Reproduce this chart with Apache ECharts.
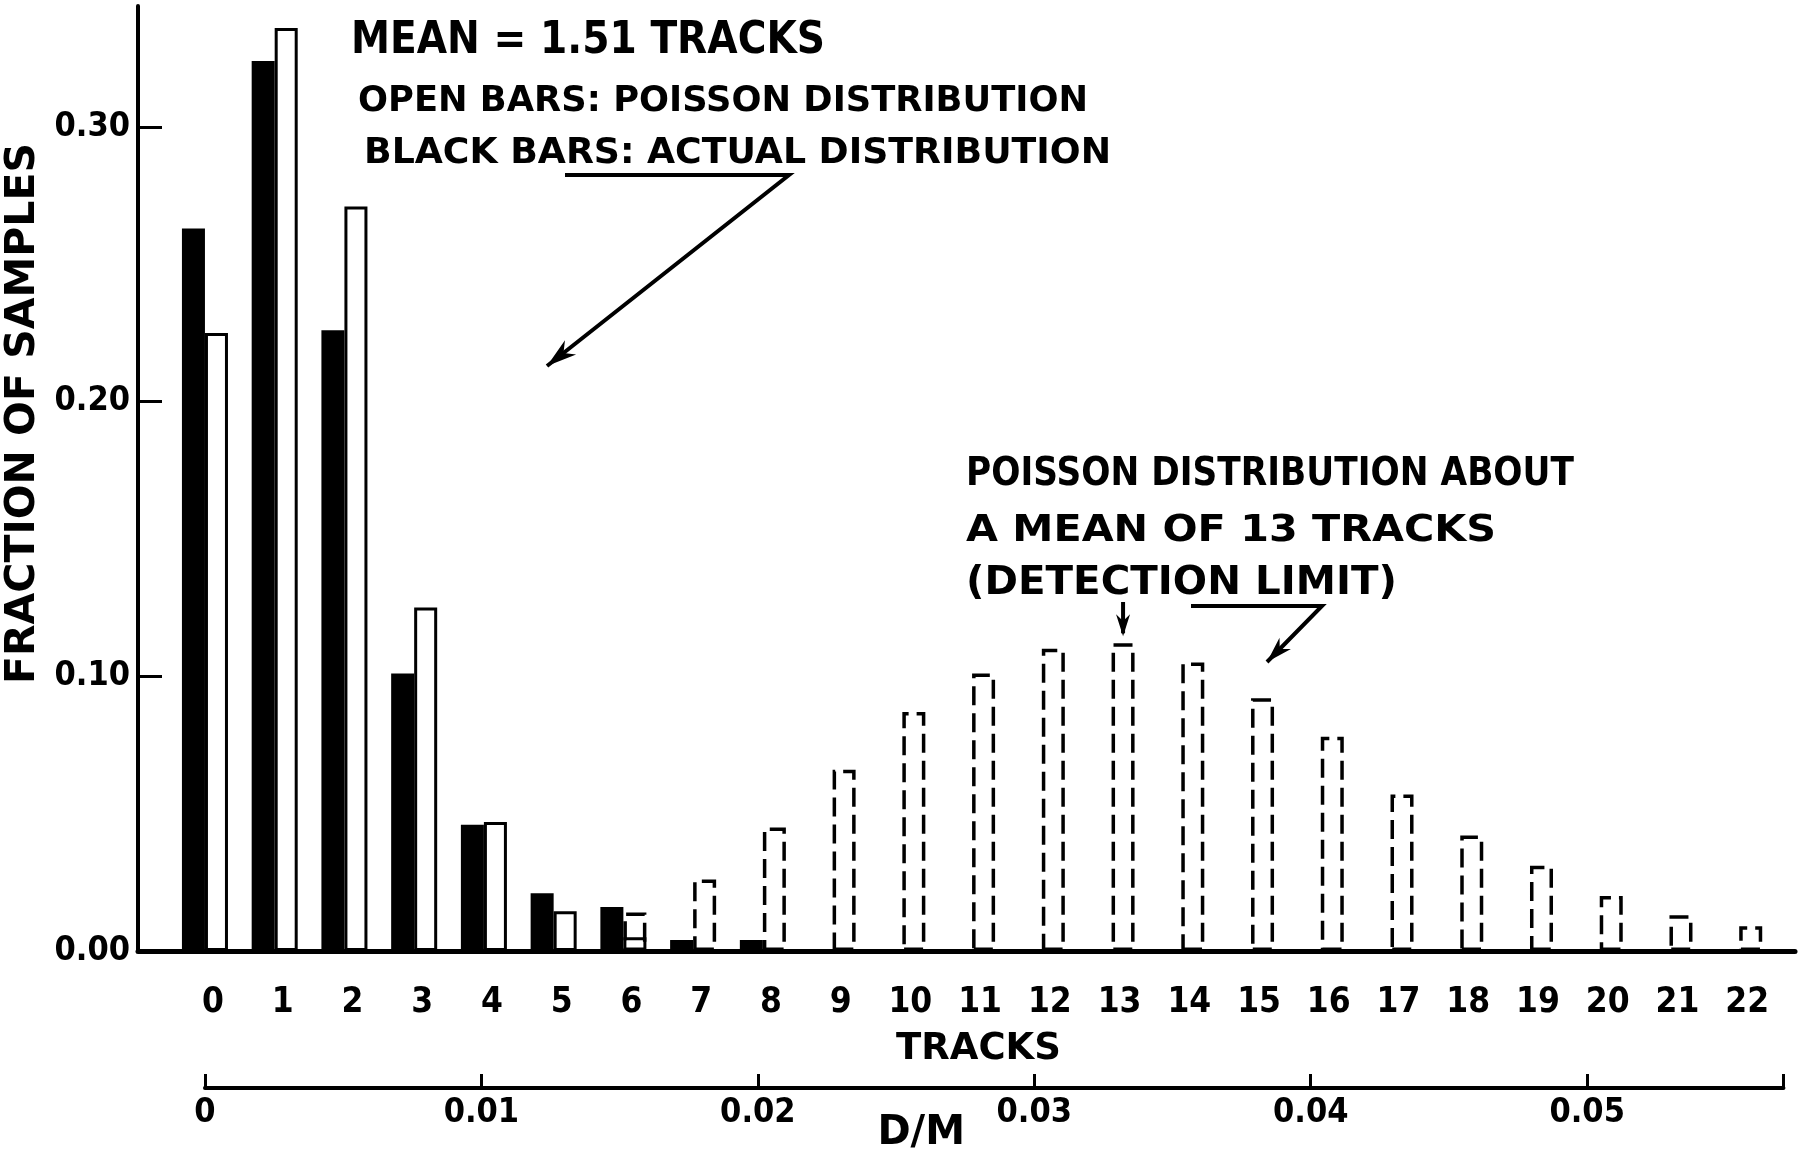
<!DOCTYPE html>
<html>
<head>
<meta charset="utf-8">
<script src="https://cdn.jsdelivr.net/npm/echarts@6/dist/echarts.min.js"></script>
<style>
  html, body { margin: 0; padding: 0; background: #fff; }
  #chart { width: 1807px; height: 1152px; }
</style>
</head>
<body>
<div id="chart"></div>
<script>
// Number of tracks per sample
const tracks = [0, 1, 2, 3, 4, 5, 6, 7, 8, 9, 10, 11, 12, 13, 14, 15, 16, 17, 18, 19, 20, 21, 22];

// Observed fraction of samples (black bars), tracks 0..8
const actualFraction = [0.263, 0.324, 0.226, 0.101, 0.046, 0.021, 0.016, 0.004, 0.004];

// Poisson distribution with mean 1.51 tracks (open bars), tracks 0..6
const poissonMean151 = [0.225, 0.336, 0.271, 0.125, 0.047, 0.0145, 0.005];

// Poisson distribution about a mean of 13 tracks (dashed bars)
const poissonMean13Tracks = [6, 7, 8, 9, 10, 11, 12, 13, 14, 15, 16, 17, 18, 19, 20, 21, 22];
const poissonMean13 = [0.014, 0.026, 0.045, 0.066, 0.087, 0.101, 0.110, 0.112, 0.105, 0.092, 0.078, 0.057, 0.042, 0.031, 0.020, 0.013, 0.009];

// Axis ticks
const fractionTicks = [0, 0.1, 0.2, 0.3];
const dmTicks = [0, 0.01, 0.02, 0.03, 0.04, 0.05];
const DM_END = 0.0571;            // right end of the D/M scale
const TRACKS_PER_DM_STEP = 3.964; // tracks corresponding to 0.01 D/M

// ---- layout ----
const FONT_TEXT = '"DejaVu Sans", sans-serif';
const FONT_NUM = '"DejaVu Sans Condensed", "DejaVu Sans", sans-serif';
const TRACK_MIN = -0.96, TRACK_MAX = 22.8;
const GRID_LEFT = 138, GRID_RIGHT = 12, GRID_TOP = 6, GRID_BOTTOM = 201;
const gridWidth = 1807 - GRID_LEFT - GRID_RIGHT;
const pxPerTrack = gridWidth / (TRACK_MAX - TRACK_MIN);
const BAR_HALF = 0.165; // half a bar, in tracks
const barWidth = 2 * BAR_HALF * pxPerTrack;
const dmLeft = GRID_LEFT + (0 - TRACK_MIN) * pxPerTrack;
const dmWidth = DM_END / 0.01 * TRACKS_PER_DM_STEP * pxPerTrack;

const chart = echarts.init(document.getElementById('chart'));

const txt = (size, family) => ({ color: '#000', fontFamily: family || FONT_NUM, fontWeight: 'bold', fontSize: size });

const option = {
  backgroundColor: '#fff',
  animation: false,
  grid: [
    { left: GRID_LEFT, right: GRID_RIGHT, top: GRID_TOP, bottom: GRID_BOTTOM, outerBoundsMode: 'none', containLabel: false },
    { left: dmLeft, width: dmWidth, top: 1040, bottom: 64, outerBoundsMode: 'none', containLabel: false }
  ],
  xAxis: [
    {
      type: 'value', gridIndex: 0, min: TRACK_MIN, max: TRACK_MAX,
      axisLine: { show: true, onZero: false, lineStyle: { color: '#000', width: 5 } },
      axisTick: { show: false },
      splitLine: { show: false },
      axisLabel: { customValues: tracks, margin: 34, padding: [0, 0, 0, 16], ...txt(35) },
      name: 'TRACKS', nameLocation: 'middle', nameGap: 80,
      nameTextStyle: { ...txt(37, FONT_TEXT), padding: [0, 0, 0, 24] }
    },
    {
      type: 'value', gridIndex: 1, min: 0, max: DM_END,
      axisLine: { show: true, onZero: false, lineStyle: { color: '#000', width: 4 } },
      axisTick: { show: true, inside: true, length: 14, customValues: dmTicks.concat([DM_END]), lineStyle: { color: '#000', width: 3 } },
      splitLine: { show: false },
      axisLabel: {
        customValues: dmTicks, margin: 8, ...txt(34),
        formatter: (v) => (v === 0 ? '0' : v.toFixed(2))
      },
      name: 'D/M', nameLocation: 'middle', nameGap: 26, nameMoveOverlap: false,
      nameTextStyle: { ...txt(40, FONT_TEXT), padding: [0, 146, 0, 0] }
    }
  ],
  yAxis: [
    {
      type: 'value', gridIndex: 0, min: 0, max: 0.344, interval: 0.1,
      axisLine: { show: true, onZero: false, lineStyle: { color: '#000', width: 4 } },
      axisTick: { show: true, inside: true, length: 24, customValues: fractionTicks, lineStyle: { color: '#000', width: 3 } },
      splitLine: { show: false },
      axisLabel: { customValues: fractionTicks, margin: 8, ...txt(34), formatter: (v) => v.toFixed(2) },
      name: 'FRACTION OF SAMPLES', nameLocation: 'middle', nameGap: 86,
      nameTextStyle: { ...txt(41, FONT_TEXT), padding: [0, 0, 0, 130] }
    },
    { type: 'value', gridIndex: 1, show: false, min: 0, max: 1 }
  ],
  series: [
    {
      name: 'Actual distribution', type: 'bar', xAxisIndex: 0, yAxisIndex: 0,
      data: actualFraction.map((v, i) => [tracks[i] - BAR_HALF, v]),
      barWidth: barWidth, barGap: '-100%',
      itemStyle: { color: '#000' }
    },
    {
      name: 'Poisson, mean 1.51', type: 'bar', xAxisIndex: 0, yAxisIndex: 0,
      data: poissonMean151.map((v, i) => [tracks[i] + BAR_HALF, v]),
      barWidth: barWidth, barGap: '-100%',
      itemStyle: { color: '#fff', borderColor: '#000', borderWidth: 3 }
    },
    {
      name: 'Poisson, mean 13', type: 'bar', xAxisIndex: 0, yAxisIndex: 0,
      data: poissonMean13.map((v, i) => [poissonMean13Tracks[i] + BAR_HALF, v]),
      barWidth: barWidth, barGap: '-100%',
      itemStyle: { color: 'rgba(0,0,0,0)', borderColor: '#000', borderWidth: 3.5, borderType: [19, 8] }
    }
  ]
};

chart.setOption(option);

// ---- annotations ----
const measureCtx = document.createElement('canvas').getContext('2d');
function label(x, y, text, size, width) {
  measureCtx.font = 'bold ' + size + 'px ' + FONT_TEXT;
  const natural = measureCtx.measureText(text).width;
  return {
    type: 'text', x: x, y: y, scaleX: width / natural,
    style: { text: text, fill: '#000', fontFamily: FONT_TEXT, fontWeight: 'bold', fontSize: size, align: 'left', verticalAlign: 'middle' }
  };
}
function arrowHead(from, to, len, half) {
  const dx = to[0] - from[0], dy = to[1] - from[1];
  const L = Math.hypot(dx, dy), ux = dx / L, uy = dy / L;
  const bx = to[0] - ux * len, by = to[1] - uy * len;
  return {
    type: 'polygon',
    shape: { points: [to, [bx - uy * half, by + ux * half], [to[0] - ux * len * 0.7, to[1] - uy * len * 0.7], [bx + uy * half, by - ux * half]] },
    style: { fill: '#000' }
  };
}

// arrow down to the bar at the 13-track mean
const x13 = chart.convertToPixel({ xAxisIndex: 0 }, 13 + BAR_HALF);
const y13 = chart.convertToPixel({ yAxisIndex: 0 }, poissonMean13[poissonMean13Tracks.indexOf(13)]);

const leg1 = [[565, 175], [789, 175], [547, 366]];
const leg2 = [[1191, 606], [1322, 606], [1267, 662]];

chart.setOption({
  graphic: [
    label(351, 41, 'MEAN = 1.51 TRACKS', 45, 474),
    label(358, 102, 'OPEN BARS: POISSON DISTRIBUTION', 36, 730),
    label(364, 154, 'BLACK BARS: ACTUAL DISTRIBUTION', 36, 747),
    label(966, 475, 'POISSON DISTRIBUTION ABOUT', 39, 608),
    label(966, 531, 'A MEAN OF 13 TRACKS', 38, 530),
    label(966, 584, '(DETECTION LIMIT)', 39, 431),
    { type: 'polyline', shape: { points: leg1 }, style: { stroke: '#000', lineWidth: 4, fill: null } },
    arrowHead(leg1[1], leg1[2], 30, 9),
    { type: 'polyline', shape: { points: leg2 }, style: { stroke: '#000', lineWidth: 4, fill: null } },
    arrowHead(leg2[1], leg2[2], 26, 8),
    { type: 'line', shape: { x1: x13, y1: 602, x2: x13, y2: y13 - 10 }, style: { stroke: '#000', lineWidth: 4 } },
    arrowHead([x13, 602], [x13, y13 - 7], 22, 7)
  ]
});
</script>
</body>
</html>
